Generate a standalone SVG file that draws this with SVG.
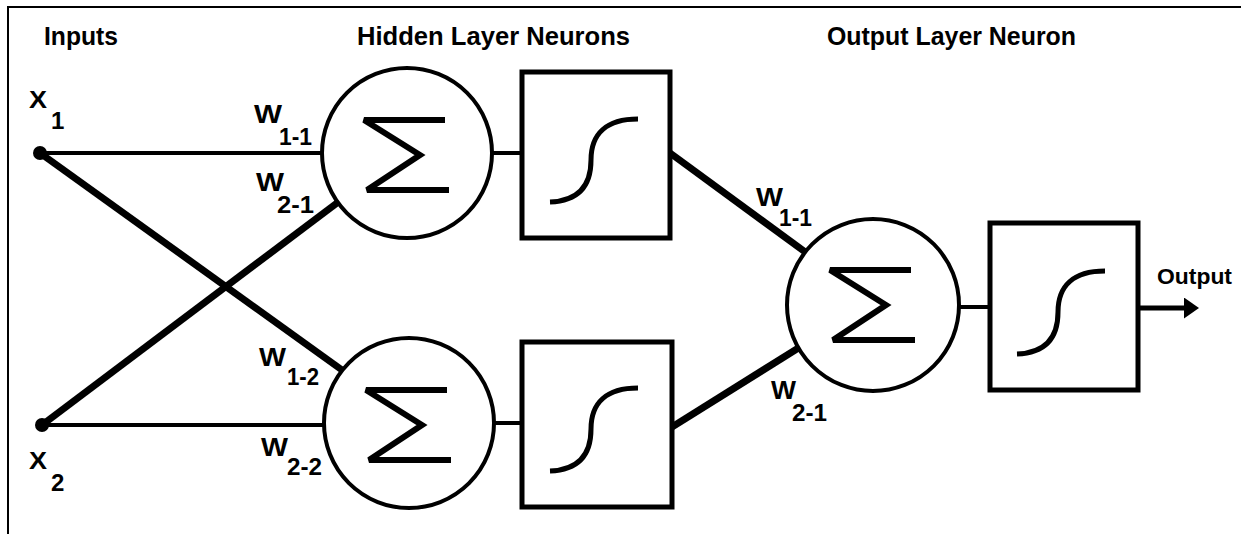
<svg xmlns="http://www.w3.org/2000/svg" xmlns:xlink="http://www.w3.org/1999/xlink" width="1241" height="534" viewBox="0 0 1241 534">
<style>
.bg{fill:#fff}
.frame{fill:none;stroke:#000;stroke-width:2}
.hdr{font-family:"Liberation Sans",Arial,sans-serif;font-weight:bold;font-size:25px;fill:#000}
.lbl{font-family:"Liberation Sans",Arial,sans-serif;font-weight:bold;font-size:26px;fill:#000}
.sub{font-family:"Liberation Sans",Arial,sans-serif;font-weight:bold;font-size:24px;fill:#000}
.xl{font-family:"Liberation Sans",Arial,sans-serif;font-weight:bold;font-size:24px;fill:#000}
.outl{font-family:"Liberation Sans",Arial,sans-serif;font-weight:bold;font-size:22px;fill:#000}
.neuron{fill:#fff;stroke:#000;stroke-width:4}
.box{fill:#fff;stroke:#000;stroke-width:5}
.sig{fill:none;stroke:#000;stroke-width:6;stroke-linejoin:miter;stroke-miterlimit:3}
.sgm{fill:none;stroke:#000;stroke-width:5;stroke-linecap:butt}
.thin{fill:none;stroke:#000;stroke-width:4}
.thick{fill:none;stroke:#000;stroke-width:7}
</style>
<defs>
<path id="sigma" d="M38,-34 H-43 L13,1 L-40,36 H42"/>
<path id="sigmoid" d="M28,130 C55,129 69,115 69,88 C69,62 84,47 116,47"/>
<marker id="arrow" markerWidth="15" markerHeight="21" refX="0" refY="10.5" orient="auto" markerUnits="userSpaceOnUse">
<path d="M0,0 L15,10.5 L0,21 Z" fill="#000"/>
</marker>
</defs>
<rect class="bg" x="0" y="0" width="1241" height="534"/>
<path class="frame" d="M8,534 V7 H1241"/>

<g id="headers">
<text class="hdr" x="44" y="45" textLength="74" lengthAdjust="spacingAndGlyphs">Inputs</text>
<text class="hdr" x="357" y="45" textLength="273" lengthAdjust="spacingAndGlyphs">Hidden Layer Neurons</text>
<text class="hdr" x="827" y="45" textLength="249" lengthAdjust="spacingAndGlyphs">Output Layer Neuron</text>
</g>

<g id="connectors">
<line class="thin" x1="40" y1="153" x2="324" y2="153"/>
<line class="thick" x1="40" y1="153" x2="342" y2="370"/>
<line class="thin" x1="42" y1="425" x2="326" y2="425"/>
<line class="thick" x1="42" y1="425" x2="337" y2="203"/>
<line class="thin" x1="492" y1="153" x2="522" y2="153"/>
<line class="thin" x1="494" y1="423" x2="522" y2="423"/>
<line class="thick" x1="670" y1="153" x2="808" y2="254"/>
<line class="thick" x1="672" y1="427" x2="800" y2="347"/>
<line class="thin" x1="959" y1="307" x2="990" y2="307"/>
<line class="thin" x1="1138" y1="308" x2="1184" y2="308" style="stroke-width:5" marker-end="url(#arrow)"/>
</g>

<g id="input-x1">
<circle cx="40" cy="153" r="7" fill="#000"/>
<text class="xl" x="29" y="108" textLength="18" lengthAdjust="spacingAndGlyphs">X</text>
<text class="sub" x="51" y="129">1</text>
</g>
<g id="input-x2">
<circle cx="42" cy="425" r="7" fill="#000"/>
<text class="xl" x="29" y="469" textLength="18" lengthAdjust="spacingAndGlyphs">X</text>
<text class="sub" x="51" y="491">2</text>
</g>

<g id="weights">
<text class="lbl" x="254" y="123" textLength="28" lengthAdjust="spacingAndGlyphs">W</text><text class="sub" x="279" y="145" textLength="33" lengthAdjust="spacingAndGlyphs">1-1</text>
<text class="lbl" x="256" y="191" textLength="28" lengthAdjust="spacingAndGlyphs">W</text><text class="sub" x="277" y="213" textLength="37" lengthAdjust="spacingAndGlyphs">2-1</text>
<text class="lbl" x="259" y="366" textLength="27" lengthAdjust="spacingAndGlyphs">W</text><text class="sub" x="287" y="385" textLength="32" lengthAdjust="spacingAndGlyphs">1-2</text>
<text class="lbl" x="261" y="456" textLength="27" lengthAdjust="spacingAndGlyphs">W</text><text class="sub" x="287" y="475" textLength="35" lengthAdjust="spacingAndGlyphs">2-2</text>
<text class="lbl" x="756" y="206" textLength="27" lengthAdjust="spacingAndGlyphs">W</text><text class="sub" x="779" y="226" textLength="33" lengthAdjust="spacingAndGlyphs">1-1</text>
<text class="lbl" x="771" y="399" textLength="25" lengthAdjust="spacingAndGlyphs">W</text><text class="sub" x="792" y="421" textLength="35" lengthAdjust="spacingAndGlyphs">2-1</text>
</g>

<g id="hidden-sum-1">
<circle class="neuron" cx="407" cy="153" r="85"/>
<use xlink:href="#sigma" class="sig" transform="translate(407,154)"/>
</g>
<g id="hidden-act-1">
<rect class="box" x="522" y="72" width="148" height="166"/>
<use xlink:href="#sigmoid" class="sgm" transform="translate(522,72)"/>
</g>
<g id="hidden-sum-2">
<circle class="neuron" cx="409" cy="423" r="85"/>
<use xlink:href="#sigma" class="sig" transform="translate(409,424)"/>
</g>
<g id="hidden-act-2">
<rect class="box" x="522" y="342" width="150" height="165"/>
<use xlink:href="#sigmoid" class="sgm" transform="translate(522,341)"/>
</g>
<g id="output-sum">
<circle class="neuron" cx="873" cy="305" r="86"/>
<use xlink:href="#sigma" class="sig" transform="translate(873,304)"/>
</g>
<g id="output-act">
<rect class="box" x="990" y="223" width="148" height="167"/>
<use xlink:href="#sigmoid" class="sgm" transform="translate(989,224)"/>
</g>
<g id="output-label">
<text class="outl" x="1157" y="284" textLength="75" lengthAdjust="spacingAndGlyphs">Output</text>
</g>
</svg>
